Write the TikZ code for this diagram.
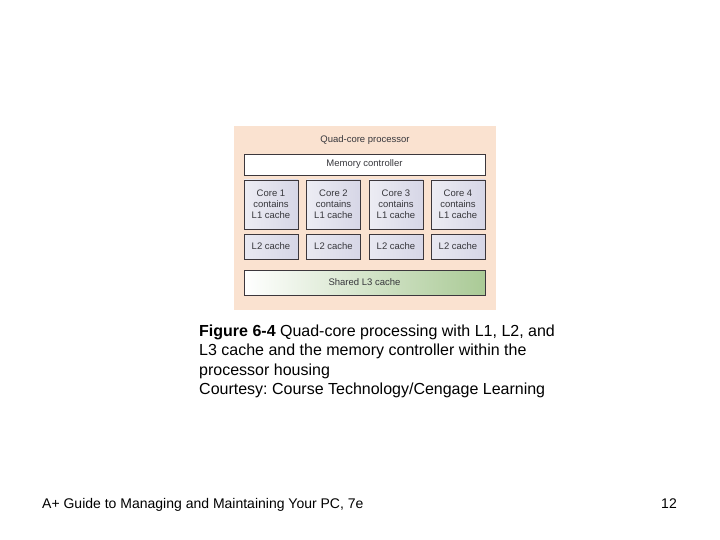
\documentclass[tikz,border=0pt]{standalone}
\usepackage{fontspec}
\setmainfont{Liberation Sans}
\frenchspacing
\definecolor{corCaixa}{RGB}{250, 226, 208}
\definecolor{corBorda}{RGB}{ 60,  55,  60}
\definecolor{corNucleo}{RGB}{214, 214, 230}
\definecolor{corVerde}{RGB}{170, 202, 150}
\definecolor{corTexto}{RGB}{ 55,  55,  60}

\begin{document}
\begin{tikzpicture}[x=1pt, y=-1pt,
    bloco/.style={draw=corBorda, line width=0.6pt, inner sep=0pt,
                  font=\fontsize{9.5}{11.2}\selectfont, text=corTexto,
                  align=center},
    nucleo/.style={bloco, left color=white!55!corNucleo, right color=corNucleo,
                   minimum width=54pt, minimum height=49pt},
    cacheL2/.style={bloco, left color=white!45!corNucleo, right color=corNucleo,
                    minimum width=54pt, minimum height=25pt}]

  %% ================================================================
  %%  MOLDURA DA PAGINA
  %% ================================================================
  \useasboundingbox[fill=white] (0,0) rectangle (720,540);

  %% ================================================================
  %%  PROCESSADOR QUAD-CORE
  %% ================================================================
  \fill[corCaixa] (234,126) rectangle (496,310);
  \node[font=\fontsize{9.5}{11.2}\selectfont, text=corTexto] (titulo) at (365,140)
        {Quad-core processor};

  % Controlador de memoria
  \node[bloco, fill=white, minimum width=241pt, minimum height=21pt]
        (memoria) at (364.5,164.5) {Memory controller};

  % Nucleos e caches L2
  \node[nucleo]  (nucleoA) at (271,204.5) {Core 1\\contains\\L1 cache};
  \node[nucleo]  (nucleoB) at (333.5,204.5) {Core 2\\contains\\L1 cache};
  \node[nucleo]  (nucleoC) at (396,204.5) {Core 3\\contains\\L1 cache};
  \node[nucleo]  (nucleoD) at (458,204.5) {Core 4\\contains\\L1 cache};

  \node[cacheL2] (cacheA) at (271,246.5) {L2 cache};
  \node[cacheL2] (cacheB) at (333.5,246.5) {L2 cache};
  \node[cacheL2] (cacheC) at (396,246.5) {L2 cache};
  \node[cacheL2] (cacheD) at (458,246.5) {L2 cache};

  % Cache L3 compartilhado
  \node[bloco, left color=white, right color=corVerde,
        minimum width=241pt, minimum height=25pt]
        (cacheL3) at (364.5,282.5) {Shared L3 cache};

  %% ================================================================
  %%  LEGENDA E RODAPE
  %% ================================================================
  % base de um no com varias linhas = linha de baixo
  \node[anchor=base west, align=left, inner sep=0pt,
        font=\fontsize{16}{19.5}\selectfont] (legenda) at (199,394.5)
        {\textbf{Figure 6-4} Quad-core processing with L1, L2, and\\
         L3 cache and the memory controller within the\\
         processor housing\\
         Courtesy: Course Technology/Cengage Learning};

  \node[anchor=base west, inner sep=0pt, font=\fontsize{14}{16}\selectfont]
        (rodape) at (42,508.5) {A+ Guide to Managing and Maintaining Your PC, 7e};
  \node[anchor=base east, inner sep=0pt, font=\fontsize{14}{16}\selectfont]
        (pagina) at (677,508.5) {12};

\end{tikzpicture}
\end{document}
